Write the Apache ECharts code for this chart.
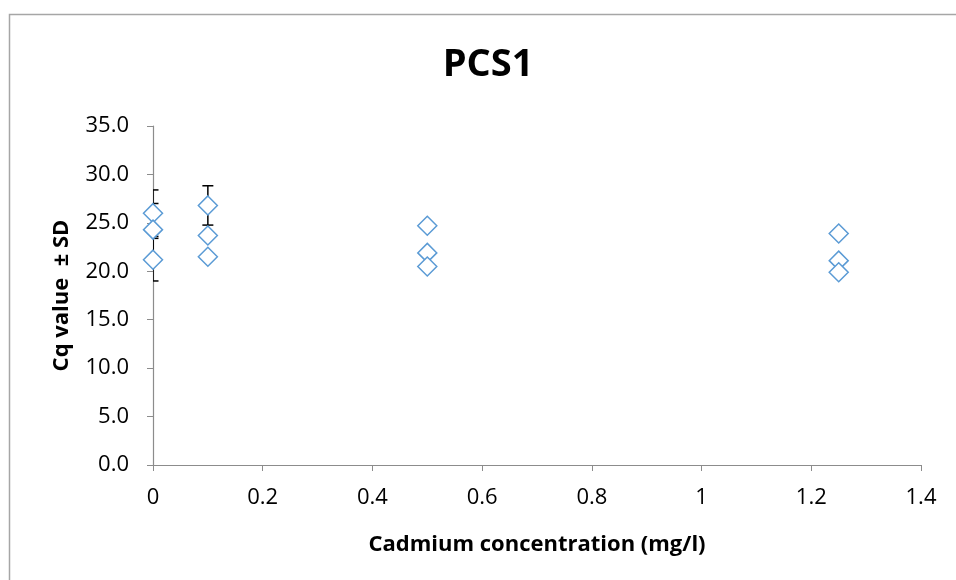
<!DOCTYPE html>
<html><head><meta charset="utf-8">
<script src="https://cdn.jsdelivr.net/npm/echarts@6/dist/echarts.min.js"></script>
<style>html,body{margin:0;padding:0;background:#fff}#c{width:956px;height:580px}</style>
</head><body><div id="c"></div>
<script>
var concentration = [0, 0, 0, 0.1, 0.1, 0.1, 0.5, 0.5, 0.5, 1.25, 1.25, 1.25];
var cqValue = [26.0, 24.3, 21.2, 26.8, 23.7, 21.5, 24.7, 21.9, 20.5, 23.9, 21.1, 19.9];
var sdValue = [2.4, 2.7, 2.2, 2.03, 0, 0, 0, 0, 0, 0, 0, 0];
var xTicks = [0, 0.2, 0.4, 0.6, 0.8, 1, 1.2, 1.4];
var yTicks = [0, 5, 10, 15, 20, 25, 30, 35];

var points = concentration.map(function (c, i) { return [c, cqValue[i]]; });
var errData = concentration.map(function (c, i) {
  return [c, cqValue[i] - sdValue[i], cqValue[i] + sdValue[i]];
}).filter(function (d, i) { return sdValue[i] > 0; });

var chart = echarts.init(document.getElementById('c'));
var FONT = 'Open Sans';
chart.setOption({
  animation: false,
  backgroundColor: '#fff',
  textStyle: { fontFamily: FONT },
  graphic: [{
    type: 'rect', left: 7, top: 12, silent: true,
    shape: { width: 980, height: 620 },
    style: { fill: 'none', stroke: '#a6a6a6', lineWidth: 1.5 }
  }, {
    type: 'text', x: 488, y: 65, silent: true,
    style: { text: 'PCS1', fontFamily: FONT, fontWeight: 'bold', fontSize: 38, fill: '#000',
      textAlign: 'center', textVerticalAlign: 'middle' }
  }],
  grid: { left: 153, right: 35, top: 126, bottom: 115 },
  xAxis: {
    type: 'value', min: xTicks[0], max: xTicks[xTicks.length - 1], interval: 0.2,
    name: 'Cadmium concentration (mg/l)', nameLocation: 'middle', nameGap: 69,
    nameTextStyle: { fontFamily: FONT, fontWeight: 'bold', fontSize: 22, color: '#000' },
    axisLine: { show: true, onZero: false, lineStyle: { color: '#8c8c8c', width: 1.2 } },
    axisTick: { show: true, length: 6, lineStyle: { color: '#8c8c8c' } },
    axisLabel: { fontFamily: FONT, fontSize: 22, color: '#000', margin: 22,
      formatter: function (v) { return String(+v.toFixed(1)); } },
    splitLine: { show: false }
  },
  yAxis: {
    type: 'value', min: yTicks[0], max: yTicks[yTicks.length - 1], interval: 5,
    name: 'Cq value  \u00b1 SD', nameLocation: 'middle', nameGap: 80, nameRotate: 90,
    nameTextStyle: { fontFamily: FONT, fontWeight: 'bold', fontSize: 22, color: '#000' },
    axisLine: { show: true, lineStyle: { color: '#8c8c8c', width: 1.2 } },
    axisTick: { show: true, length: 6, lineStyle: { color: '#8c8c8c' } },
    axisLabel: { fontFamily: FONT, fontSize: 22, color: '#000', margin: 24,
      formatter: function (v) { return v.toFixed(1); } },
    splitLine: { show: false }
  },
  series: [{
    type: 'custom',
    clip: true,
    z: 1,
    data: errData,
    renderItem: function (params, api) {
      var x = api.value(0);
      var lo = api.coord([x, api.value(1)]);
      var hi = api.coord([x, api.value(2)]);
      var w = 5.5;
      var st = { stroke: '#000', lineWidth: 1.5 };
      return {
        type: 'group',
        children: [
          { type: 'line', shape: { x1: lo[0], y1: lo[1], x2: hi[0], y2: hi[1] }, style: st },
          { type: 'line', shape: { x1: hi[0] - w, y1: hi[1], x2: hi[0] + w, y2: hi[1] }, style: st },
          { type: 'line', shape: { x1: lo[0] - w, y1: lo[1], x2: lo[0] + w, y2: lo[1] }, style: st }
        ]
      };
    }
  }, {
    type: 'scatter',
    z: 2,
    data: points,
    symbol: 'diamond',
    symbolSize: 19,
    itemStyle: { color: '#fff', borderColor: '#5b9bd5', borderWidth: 1.5, opacity: 1 }
  }]
});
</script>
</body></html>
